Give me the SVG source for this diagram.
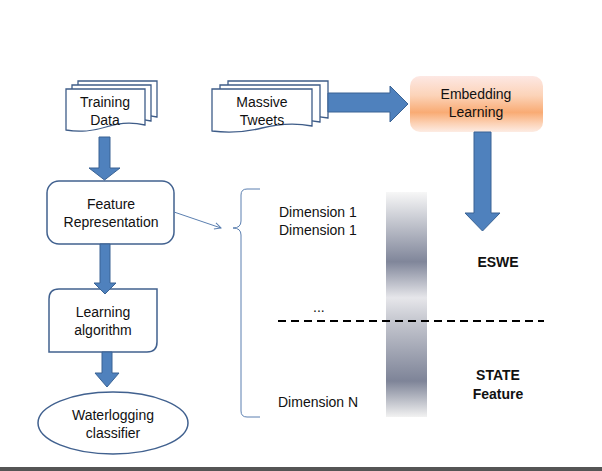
<svg xmlns="http://www.w3.org/2000/svg" width="602" height="471" viewBox="0 0 602 471">
<defs>
<style>
.doc{fill:#fff;stroke:#3e5c88;stroke-width:1.3}
.box{fill:#fff;stroke:#41618f;stroke-width:1.5}
.arr{fill:#4f81bd;stroke:#3a6394;stroke-width:1}
.t{font-family:"Liberation Sans",Arial,sans-serif;font-size:14px;fill:#111}
.c{text-anchor:middle}
.b{font-weight:bold}
.thin{fill:none;stroke:#5b7fb0;stroke-width:1}
</style>
<linearGradient id="emb" x1="0" y1="0" x2="0" y2="1">
<stop offset="0" stop-color="#fde8e4"/>
<stop offset="0.35" stop-color="#fcd3b8"/>
<stop offset="0.65" stop-color="#f9ab74"/>
<stop offset="0.85" stop-color="#fcd2b6"/>
<stop offset="1" stop-color="#fdece4"/>
</linearGradient>
<linearGradient id="bar" x1="0" y1="0" x2="0" y2="1">
<stop offset="0" stop-color="#f7f7f7"/>
<stop offset="0.31" stop-color="#80869a"/>
<stop offset="0.47" stop-color="#e6e6ea"/>
<stop offset="0.57" stop-color="#c6c8d0"/>
<stop offset="0.84" stop-color="#7e8498"/>
<stop offset="1" stop-color="#f2f2f2"/>
</linearGradient>
<marker id="open" viewBox="0 0 10 10" refX="9" refY="5" markerWidth="8" markerHeight="8" orient="auto" markerUnits="userSpaceOnUse">
<path d="M1,1 L9,5 L1,9" fill="none" stroke="#5b7fb0" stroke-width="1.2"/>
</marker>
<path id="docT" d="M0,0 H79 V36 C66,33 52,34 40,38 C28,42 12,43 0,41 Z"/>
<path id="docM" d="M0,0 H100 V37 C84,34 66,35 50,39 C34,43 15,44 0,42 Z"/>
</defs>
<rect width="602" height="471" fill="#fff"/>
<rect x="0" y="467" width="602" height="4" fill="#555"/>

<g id="training-data">
<use href="#docT" class="doc" x="78" y="81"/>
<use href="#docT" class="doc" x="72" y="85"/>
<use href="#docT" class="doc" x="66" y="89"/>
<text class="t c" x="105" y="107">Training</text>
<text class="t c" x="105" y="125">Data</text>
</g>

<g id="massive-tweets">
<use href="#docM" class="doc" x="228" y="81"/>
<use href="#docM" class="doc" x="220" y="85"/>
<use href="#docM" class="doc" x="212" y="89"/>
<text class="t c" x="262" y="107">Massive</text>
<text class="t c" x="262" y="125">Tweets</text>
</g>

<g id="embedding-learning">
<rect x="410" y="76" width="133" height="56" rx="10" fill="url(#emb)"/>
<text class="t c" x="476" y="99" fill="#2a2a2a">Embedding</text>
<text class="t c" x="476" y="117" fill="#2a2a2a">Learning</text>
</g>

<g id="feature-representation">
<rect class="box" x="47" y="181" width="127" height="63" rx="12"/>
<text class="t c" x="111" y="209">Feature</text>
<text class="t c" x="111" y="227">Representation</text>
</g>

<g id="learning-algorithm">
<path class="box" d="M59,289 H157 V342 Q157,352 147,352 H49 V299 Q49,289 59,289 Z"/>
<text class="t c" x="103" y="317">Learning</text>
<text class="t c" x="103" y="335">algorithm</text>
</g>

<g id="waterlogging-classifier">
<ellipse class="box" cx="113" cy="423" rx="75" ry="31"/>
<text class="t c" x="113" y="420">Waterlogging</text>
<text class="t c" x="113" y="438">classifier</text>
</g>

<g id="feature-vector">
<rect x="386" y="192" width="41" height="225" fill="url(#bar)"/>
<path class="thin" d="M260,189 L247,189 Q241,189 241,195 L241,221 Q241,228 233,228 Q241,228 241,235 L241,411 Q241,417 247,417 L260,417"/>
<text class="t" x="279" y="217">Dimension 1</text>
<text class="t" x="279" y="235">Dimension 1</text>
<text class="t" x="313" y="312">...</text>
<text class="t" x="278" y="407">Dimension N</text>
<line x1="278" y1="321" x2="544" y2="321" stroke="#000" stroke-width="2" stroke-dasharray="8,5"/>
<text class="t c b" x="498" y="267">ESWE</text>
<text class="t c b" x="498" y="380">STATE</text>
<text class="t c b" x="498" y="399">Feature</text>
</g>

<g id="connectors">
<polygon class="arr" points="99,137 110,137 110,168 120,168 104.5,180 89,168 99,168"/>
<polygon class="arr" points="100,244 110,244 110,283 116,283 105,294 94,283 100,283"/>
<polygon class="arr" points="102,352 112,352 112,373 119,373 107,387 95,373 102,373"/>
<polygon class="arr" points="328,93 390,93 390,86 408,104 390,122 390,112 328,112"/>
<polygon class="arr" points="474,132 491,132 491,213 500,213 482.5,231 465,213 474,213"/>
<line class="thin" x1="174" y1="212" x2="221" y2="228" marker-end="url(#open)"/>
</g>
</svg>
